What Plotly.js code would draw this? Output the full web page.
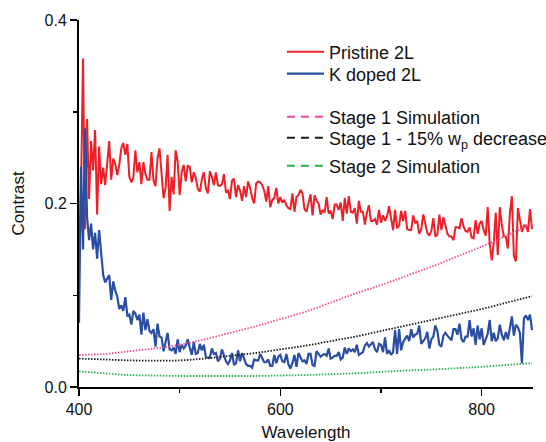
<!DOCTYPE html>
<html>
<head>
<meta charset="utf-8">
<script src="https://cdn.plot.ly/plotly-3.0.1.min.js"></script>
<style>html,body{margin:0;padding:0;background:#fff;}#chart{width:546px;height:442px;}</style>
</head>
<body>
<div id="chart"></div>
<script>
// Measured spectra: wavelength starts at 400 nm, one value every 2 nm up to 850 nm
const wavelengthStart = 400;
const wavelengthStep = 2;

const pristine2L = [
0.140,0.215,0.358,0.172,0.292,0.205,0.268,0.236,0.280,0.188,0.262,
0.221,0.239,0.220,0.244,0.268,0.226,0.249,0.243,0.231,0.242,
0.260,0.266,0.253,0.265,0.229,0.223,0.228,0.258,0.234,0.245,
0.221,0.245,0.232,0.226,0.226,0.256,0.225,0.219,0.249,0.260,
0.236,0.206,0.217,0.253,0.192,0.229,0.210,0.258,0.246,0.209,
0.234,0.242,0.224,0.241,0.240,0.223,0.234,0.228,0.216,0.213,
0.226,0.234,0.217,0.211,0.235,0.229,0.220,0.234,0.220,0.219,
0.221,0.232,0.212,0.214,0.205,0.225,0.227,0.207,0.220,0.214,
0.203,0.219,0.207,0.224,0.217,0.206,0.200,0.222,0.224,0.223,
0.220,0.214,0.202,0.219,0.196,0.204,0.206,0.217,0.200,0.207,
0.201,0.204,0.198,0.195,0.194,0.211,0.191,0.207,0.209,0.215,
0.211,0.194,0.191,0.199,0.210,0.187,0.209,0.203,0.200,0.188,
0.193,0.190,0.207,0.189,0.192,0.183,0.199,0.199,0.193,0.201,
0.181,0.206,0.189,0.208,0.191,0.190,0.195,0.178,0.203,0.191,
0.191,0.177,0.190,0.198,0.181,0.181,0.183,0.177,0.193,0.179,
0.187,0.181,0.186,0.197,0.183,0.171,0.193,0.173,0.176,0.192,
0.181,0.192,0.172,0.171,0.171,0.187,0.179,0.181,0.167,0.172,
0.188,0.177,0.168,0.165,0.170,0.184,0.164,0.166,0.188,0.171,
0.185,0.176,0.167,0.164,0.164,0.160,0.174,0.174,0.173,0.184,
0.175,0.170,0.169,0.174,0.163,0.162,0.182,0.167,0.178,0.181,
0.171,0.165,0.196,0.157,0.138,0.157,0.190,0.144,0.196,0.177,
0.164,0.164,0.151,0.189,0.208,0.143,0.137,0.195,0.182,0.169,
0.176,0.176,0.169,0.194,0.172
];

const kDoped2L = [
0.070,0.240,0.150,0.282,0.185,0.160,0.178,0.150,0.168,0.140,0.171,
0.145,0.122,0.114,0.118,0.122,0.095,0.115,0.105,0.099,0.085,
0.089,0.083,0.098,0.078,0.079,0.068,0.083,0.080,0.073,0.079,
0.057,0.081,0.062,0.074,0.061,0.059,0.063,0.044,0.069,0.055,
0.054,0.039,0.051,0.059,0.041,0.040,0.043,0.036,0.052,0.038,
0.046,0.042,0.045,0.052,0.043,0.035,0.049,0.036,0.037,0.047,
0.040,0.046,0.033,0.032,0.032,0.042,0.036,0.037,0.028,0.031,
0.041,0.033,0.028,0.025,0.029,0.037,0.024,0.026,0.040,0.028,
0.037,0.031,0.025,0.023,0.023,0.021,0.030,0.029,0.029,0.036,
0.031,0.027,0.027,0.030,0.023,0.023,0.035,0.026,0.033,0.035,
0.028,0.027,0.036,0.025,0.020,0.026,0.035,0.022,0.037,0.032,
0.028,0.029,0.025,0.036,0.036,0.024,0.023,0.039,0.036,0.033,
0.035,0.036,0.034,0.042,0.031,0.032,0.034,0.034,0.038,0.030,
0.032,0.043,0.036,0.042,0.039,0.041,0.038,0.046,0.035,0.037,
0.038,0.045,0.048,0.044,0.047,0.049,0.041,0.038,0.047,0.046,
0.038,0.054,0.036,0.040,0.035,0.038,0.062,0.036,0.063,0.040,
0.049,0.052,0.056,0.050,0.063,0.054,0.057,0.058,0.067,0.047,
0.050,0.053,0.060,0.042,0.052,0.055,0.067,0.061,0.046,0.044,
0.056,0.059,0.056,0.053,0.051,0.063,0.063,0.057,0.069,0.052,
0.049,0.055,0.055,0.073,0.055,0.064,0.046,0.067,0.052,0.064,
0.046,0.052,0.058,0.073,0.050,0.059,0.050,0.053,0.068,0.057,
0.051,0.060,0.052,0.064,0.077,0.056,0.068,0.065,0.059,0.026,
0.075,0.078,0.073,0.079,0.062
];

// Simulations (smooth curves), read every 25 nm
const simWavelength = [400,425,450,475,500,525,550,575,600,625,650,675,700,725,750,775,800,825,850];
const stage1Sim      = [0.035,0.036,0.039,0.042,0.046,0.052,0.059,0.066,0.074,0.082,0.092,0.102,0.111,0.121,0.131,0.142,0.153,0.165,0.178];
const stage1Minus15  = [0.031,0.030,0.029,0.0287,0.029,0.031,0.034,0.037,0.041,0.045,0.050,0.055,0.061,0.067,0.073,0.079,0.085,0.092,0.099];
const stage2Sim      = [0.017,0.015,0.013,0.0125,0.012,0.012,0.012,0.012,0.0125,0.013,0.014,0.015,0.0165,0.018,0.019,0.0205,0.022,0.024,0.026];

const FONT = 'Arial, "Liberation Sans", sans-serif';
const RED = '#ee1f26', BLUE = '#2a4ea2', PINK = '#f24a98', BLACK = '#1a1a1a', GREEN = '#27b050';
const DOTS = '1.5px,1.5px', DASHES = '8px,6px';

const traces = [
  {type:'scatter', mode:'lines', name:'Pristine 2L', x0:wavelengthStart, dx:wavelengthStep, y:pristine2L,
   line:{color:RED, width:2}, legend:'legend'},
  {type:'scatter', mode:'lines', name:'K doped 2L', x0:wavelengthStart, dx:wavelengthStep, y:kDoped2L,
   line:{color:BLUE, width:2.2}, legend:'legend2'},
  {type:'scatter', mode:'lines', name:'Stage 1 Simulation', x:simWavelength, y:stage1Sim,
   line:{color:PINK, width:1.8, dash:DOTS, shape:'spline'}, showlegend:false},
  {type:'scatter', mode:'lines', name:'Stage 1 - 15% w<sub>p</sub> decrease', x:simWavelength, y:stage1Minus15,
   line:{color:BLACK, width:1.8, dash:DOTS, shape:'spline'}, showlegend:false},
  {type:'scatter', mode:'lines', name:'Stage 2 Simulation', x:simWavelength, y:stage2Sim,
   line:{color:GREEN, width:1.8, dash:DOTS, shape:'spline'}, showlegend:false},
  // legend-only entries (dashed sample like the reference legend)
  {type:'scatter', mode:'lines', name:'Stage 1 Simulation', x:[null], y:[null],
   line:{color:PINK, width:2, dash:DASHES}, legend:'legend3', hoverinfo:'skip'},
  {type:'scatter', mode:'lines', name:'Stage 1 - 15% w<sub>p</sub> decrease', x:[null], y:[null],
   line:{color:BLACK, width:2, dash:DASHES}, legend:'legend4', hoverinfo:'skip'},
  {type:'scatter', mode:'lines', name:'Stage 2 Simulation', x:[null], y:[null],
   line:{color:GREEN, width:2, dash:DASHES}, legend:'legend5', hoverinfo:'skip'}
];

const axisCommon = {
  showline:true, linecolor:'#000', linewidth:2, ticks:'outside', ticklen:7, tickwidth:1.5, tickcolor:'#000',
  showgrid:false, zeroline:false, tickfont:{family:FONT, size:16, color:'#111'}
};

function leg(y) {
  return {x:0.447, y:y, xanchor:'left', yanchor:'middle', bgcolor:'rgba(0,0,0,0)', itemwidth:37,
    font:{family:FONT, size:18, color:'#111'}};
}

const layout = {
  width:546, height:442,
  margin:{l:79, r:13, t:20, b:55, autoexpand:false},
  paper_bgcolor:'#fff', plot_bgcolor:'#fff',
  font:{family:FONT, color:'#111'},
  showlegend:true,
  xaxis:Object.assign({}, axisCommon, {
    range:[400, 851], tickvals:[400,600,800], ticktext:['400','600','800'],
    minor:{tickvals:[500,700], ticks:'outside', ticklen:4, tickwidth:1.5, tickcolor:'#000'},
    title:{text:'Wavelength', font:{family:FONT, size:17, color:'#111'}, standoff:12}
  }),
  yaxis:Object.assign({}, axisCommon, {
    range:[0, 0.4], tickvals:[0,0.2,0.4], ticktext:['0.0','0.2','0.4'],
    minor:{tickvals:[0.1,0.3], ticks:'outside', ticklen:4, tickwidth:1.5, tickcolor:'#000'},
    title:{text:'Contrast', font:{family:FONT, size:17, color:'#111'}, standoff:16}
  }),
  legend:leg(0.9128),
  legend2:leg(0.8529),
  legend3:leg(0.7357),
  legend4:leg(0.6785),
  legend5:leg(0.6022)
};

Plotly.newPlot('chart', traces, layout, {displayModeBar:false, staticPlot:true});
</script>
</body>
</html>
